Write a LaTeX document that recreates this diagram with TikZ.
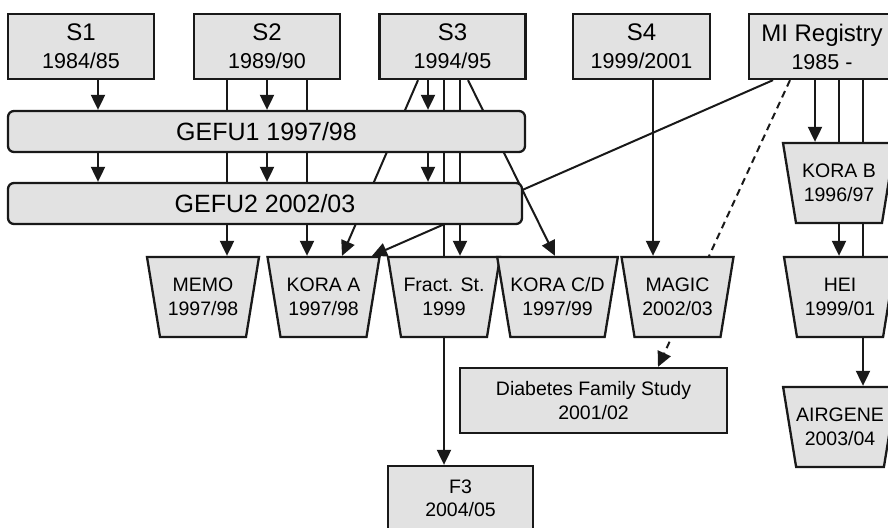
\documentclass[tikz,border=0pt]{standalone}
\usepackage{fontspec}
\setmainfont{Liberation Sans}
\usetikzlibrary{arrows.meta,shapes.geometric}
\pgfdeclarelayer{bg}
\pgfdeclarelayer{paper}
\pgfsetlayers{paper,bg,main}
\definecolor{boxfill}{RGB}{226,226,226}
\definecolor{ink}{RGB}{25,25,25}
\newcommand\ttl[1]{{\fontsize{24}{28}\selectfont #1}}
\begin{document}
\begin{tikzpicture}[x=1pt,y=-1pt,
  base/.style={draw=ink, fill=boxfill, line width=2.3pt, align=center, inner sep=0pt},
  sbox/.style={base, rectangle, minimum width=146pt, minimum height=65pt, font=\fontsize{21.5}{28}\selectfont},
  gbox/.style={base, rectangle, rounded corners=6pt, minimum height=41pt, font=\fontsize{25}{28}\selectfont},
  trap/.style={base, trapezium, trapezium left angle=109, trapezium right angle=109, trapezium stretches body, minimum width=112pt, minimum height=80pt, font=\fontsize{19.5}{24}\selectfont},
  lbox/.style={base, rectangle, minimum height=65pt, font=\fontsize{19.5}{23.5}\selectfont},
  conn/.style={draw=ink, line width=2pt},
  arr/.style={conn, -{Triangle[length=15pt,width=14pt]}},
  darr/.style={arr, dash pattern=on 7pt off 5pt},
]
\useasboundingbox (0,0) rectangle (888,527);
\begin{pgfonlayer}{paper}
\fill[white] (0,0) rectangle (888,527);
\end{pgfonlayer}
\node[sbox] (s1) at (81,46.5) {\ttl{S1}\\1984/85};
\node[sbox] (s2) at (267,46.5) {\ttl{S2}\\1989/90};
\node[sbox] (s3) at (452.5,46.5) {\ttl{S3}\\1994/95};
\node[sbox, minimum width=137pt] (s4) at (641.5,46.5) {\ttl{S4}\\1999/2001};
\node[sbox] (mi) at (822,46.5) {\ttl{MI Registry}\\1985 -};
\node[gbox, minimum width=517pt] (g1) at (266.5,131.5) {GEFU1 1997/98};
\node[gbox, minimum width=514pt] (g2) at (265,203.5) {GEFU2 2002/03};
\node[trap] (memo) at (203,297) {MEMO\\1997/98};
\node[trap] (koraa) at (323.5,297) {KORA A\\1997/98};
\node[trap] (fract) at (444,297) {Fract. St.\\1999};
\node[trap] (korac) at (557.5,297) {KORA C/D\\1997/99};
\node[trap] (magic) at (677.5,297) {MAGIC\\2002/03};
\node[trap] (korab) at (839,183) {KORA B\\1996/97};
\node[trap] (hei) at (840,297) {HEI\\1999/01};
\node[trap] (airgene) at (840,427) {AIRGENE\\2003/04};
\node[lbox, minimum width=267pt] (dfs) at (593.5,400.5) {Diabetes Family Study\\2001/02};
\node[lbox, minimum width=145pt] (f3) at (460.5,498.5) {F3\\2004/05};
\begin{pgfonlayer}{bg}
\draw[arr] ([xshift=17pt]s1.south) -- ([xshift=17pt]s1.south |- g1.north);
\draw[arr] ([xshift=17pt]s1.south |- g1.south) -- ([xshift=17pt]s1.south |- g2.north);
\draw[arr] (s2.south) -- (s2.south |- g1.north);
\draw[arr] (s2.south |- g1.south) -- (s2.south |- g2.north);
\draw[arr] ([xshift=-40pt]s2.south) -- ([xshift=-40pt]s2.south |- memo.north);
\draw[arr] ([xshift=40pt]s2.south) -- ([xshift=40pt]s2.south |- koraa.north);
\draw[arr] ([xshift=-24.5pt]s3.south) -- ([xshift=-24.5pt]s3.south |- g1.north);
\draw[arr] ([xshift=-24.5pt]s3.south |- g1.south) -- ([xshift=-24.5pt]s3.south |- g2.north);
\draw[arr] ([xshift=-8.5pt]s3.south) -- ([xshift=-8.5pt]s3.south |- f3.north);
\draw[arr] ([xshift=7.5pt]s3.south) -- ([xshift=7.5pt]s3.south |- fract.north);
\draw[arr] ([xshift=-34.5pt]s3.south) -- ([xshift=18.5pt]koraa.north);
\draw[arr] ([xshift=15.5pt]s3.south) -- ([xshift=-2.5pt]korac.north);
\draw[arr] ([xshift=11.5pt]s4.south) -- ([xshift=11.5pt]s4.south |- magic.north);
\draw[arr] ([xshift=-49pt]mi.south) -- ([xshift=48.5pt]koraa.north);
\draw[darr] ([xshift=-32pt]mi.south) -- ([xshift=64.5pt]dfs.north);
\draw[arr] ([xshift=-7pt]mi.south) -- ([xshift=-7pt]mi.south |- korab.north);
\draw[arr] ([xshift=17pt]mi.south) -- ([xshift=17pt]mi.south |- hei.north);
\draw[arr] ([xshift=41pt]mi.south) -- ([xshift=41pt]mi.south |- airgene.north);
\end{pgfonlayer}
\end{tikzpicture}
\end{document}
